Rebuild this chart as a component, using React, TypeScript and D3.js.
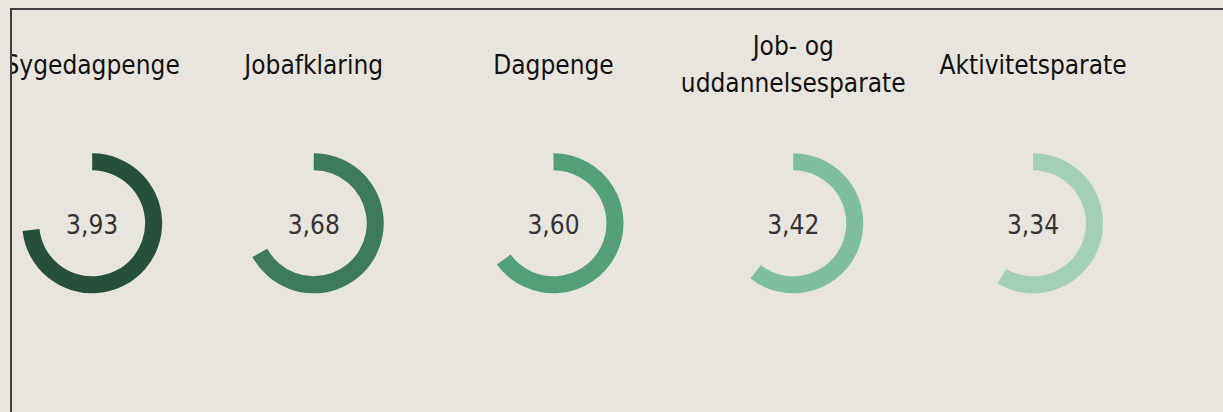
import React, { useEffect, useMemo } from "react";
import * as d3 from "d3";

const categories: string[] = [
  "Sygedagpenge",
  "Jobafklaring",
  "Dagpenge",
  "Job- og uddannelsesparate",
  "Aktivitetsparate",
];
const values: number[] = [3.93, 3.68, 3.6, 3.42, 3.34];
const colors: string[] = ["#27503c", "#3e7a5c", "#53a078", "#7ebd9d", "#a3cfb7"];
const scaleDomain: number[] = [1, 5];

const W = 1223;
const H = 412;
const FONT = "'DejaVu Sans Condensed', 'DejaVu Sans', sans-serif";
const LABEL_SIZE = 26;
const VALUE_SIZE = 26;

const locale = d3.formatLocale({
  decimal: ",",
  thousands: ".",
  grouping: [3],
  currency: ["", " kr."],
});
const fmt = locale.format(".2f");

function measure(text: string, size: number): number {
  const c = document.createElement("canvas");
  const ctx = c.getContext("2d");
  if (!ctx) return text.length * size * 0.5;
  ctx.font = `${size}px ${FONT}`;
  return ctx.measureText(text).width;
}

function wrap(text: string, size: number, maxW: number): string[] {
  const words = text.split(" ");
  const lines: string[] = [];
  let cur = "";
  for (const w of words) {
    const t = cur ? cur + " " + w : w;
    if (cur && measure(t, size) > maxW) {
      lines.push(cur);
      cur = w;
    } else cur = t;
  }
  if (cur) lines.push(cur);
  return lines;
}

export default function App() {
  useEffect(() => {
    document.body.style.margin = "0";
    document.body.style.background = "#e8e5de";
  }, []);

  const x = d3.scalePoint<string>().domain(categories).range([74, 1033]);
  const angle = d3.scaleLinear().domain(scaleDomain).range([0, 2 * Math.PI]);
  const arc = d3.arc<any>().innerRadius(53).outerRadius(70).startAngle(0);
  const cy = 223.3;
  const labelY = 73.5;
  const lineH = 37.7;
  const leftBound = 4.5;

  const items = useMemo(
    () =>
      categories.map((c, i) => {
        const lines = wrap(c, LABEL_SIZE, 230);
        const maxW = Math.max(...lines.map((l) => measure(l, LABEL_SIZE)));
        const cx = Math.max(x(c) as number, leftBound + maxW / 2);
        return { c, i, lines, cx };
      }),
    []
  );

  return (
    <svg width={W} height={H} style={{ display: "block" }}>
      <defs>
        <clipPath id="inner">
          <rect x={12} y={10} width={W} height={H} />
        </clipPath>
      </defs>
      <rect x={0} y={0} width={W} height={H} fill="#e8e5de" />
      <g clipPath="url(#inner)">
        {items.map(({ c, i, lines, cx }) => (
          <g key={c}>
            <text
              x={cx}
              textAnchor="middle"
              fontFamily={FONT}
              fontSize={LABEL_SIZE}
              fill="#111111"
            >
              {lines.map((l, k) => (
                <tspan
                  key={k}
                  x={cx}
                  y={labelY + (k - (lines.length - 1) / 2) * lineH}
                >
                  {l}
                </tspan>
              ))}
            </text>
            <path
              transform={`translate(${cx},${cy})`}
              d={arc({ endAngle: angle(values[i]) }) || ""}
              fill={colors[i]}
            />
            <text
              x={cx}
              y={cy + 10.5}
              textAnchor="middle"
              fontFamily={FONT}
              fontSize={VALUE_SIZE}
              fill="#333333"
            >
              {fmt(values[i])}
            </text>
          </g>
        ))}
      </g>
      <rect
        x={11}
        y={9}
        width={W + 20}
        height={H + 20}
        fill="none"
        stroke="#3e3e3e"
        strokeWidth={2}
      />
    </svg>
  );
}
